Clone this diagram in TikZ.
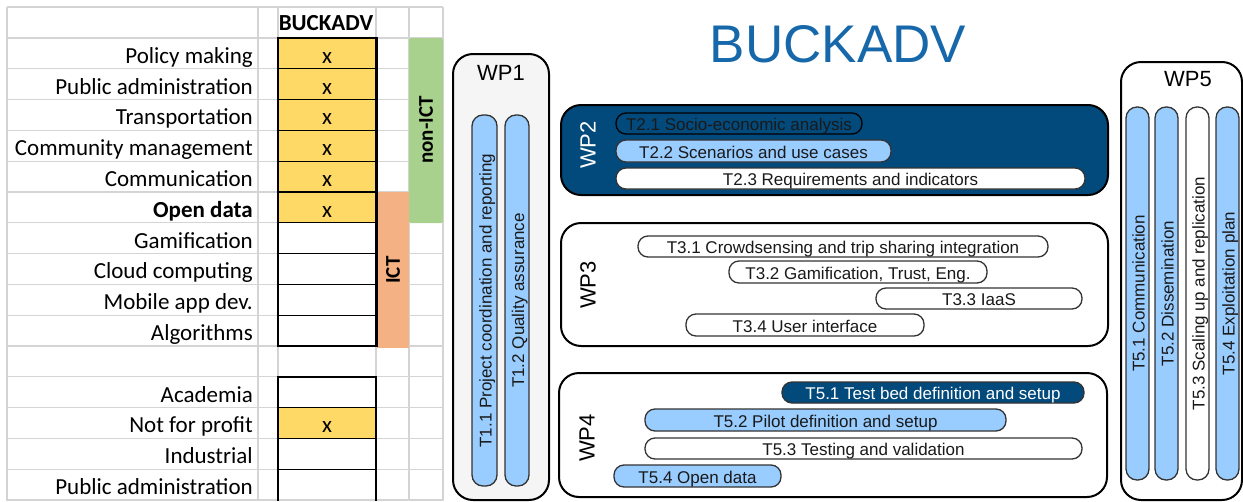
\documentclass[tikz,border=0pt]{standalone}
\usepackage{fontspec}
\setmainfont{Liberation Sans}
\newfontfamily\calfont{Carlito}
\definecolor{gridgray}{HTML}{D4D4D4}
\definecolor{cellyellow}{HTML}{FFD966}
\definecolor{ictgreen}{HTML}{A9D18E}
\definecolor{ictorange}{HTML}{F4B183}
\definecolor{wpdark}{RGB}{3,74,124}
\definecolor{tasklight}{HTML}{99CCFF}
\definecolor{titleblue}{RGB}{22,104,170}
\definecolor{wponefill}{HTML}{F5F5F5}
\definecolor{pillline}{HTML}{333333}
\begin{document}
\begin{tikzpicture}[x=1pt,y=-1pt,
  gridline/.style={draw=gridgray,line width=1.3pt},
  tablabel/.style={anchor=base east,inner sep=0pt,font=\calfont\fontsize{23}{26}\selectfont},
  cellmark/.style={anchor=base,inner sep=0pt,font=\calfont\fontsize{23}{26}\selectfont},
  sidelabel/.style={rotate=90,inner sep=0pt,font=\calfont\bfseries\fontsize{21}{24}\selectfont},
  wpbox/.style={draw=black,line width=2pt,rounded corners=20pt,inner sep=0pt},
  wplabel/.style={inner sep=0pt,font=\fontsize{22}{26}\selectfont},
  pill/.style={draw=pillline,line width=1.3pt,rounded corners=10pt,inner sep=0pt,
    font=\fontsize{17}{20}\selectfont,text height=14pt,text depth=0pt,text=black!90},
  bar/.style={pill,rotate=90,rounded corners=11pt},
]
\useasboundingbox (0,0) rectangle (1243,501);
% ---------- spreadsheet grid ----------
\draw[gridline] (7,7) -- (443,7);
\foreach \k in {0,...,15} \draw[gridline] (7,38+30.8*\k) -- (443,38+30.8*\k);
\foreach \c in {7,258,278,376,409,443} \draw[gridline] (\c,7) -- (\c,501);
% fills
\foreach \k in {0,...,5} \fill[cellyellow] (278,38+30.8*\k) rectangle (376,68.8+30.8*\k);
\fill[cellyellow] (278,407.6) rectangle (376,438.4);
\fill[ictgreen,rounded corners=2pt] (409,38) rectangle (443,223);
\fill[ictorange] (377,192) rectangle (409,348);
% black borders
\foreach \k in {1,...,9} \draw[line width=1.3pt] (278,38+30.8*\k) -- (376,38+30.8*\k);
\draw[line width=2.4pt] (277,38) -- (377.5,38);
\draw[line width=1.8pt] (278,38) -- (278,346);
\draw[line width=3pt] (376,38) -- (376,347);
\draw[line width=2.4pt] (277,346) -- (377.5,346);
\draw[line width=2.4pt] (277,376.8) -- (377,376.8);
\foreach \k in {13,14,15} \draw[line width=1.3pt] (278,38+30.8*\k-30.8) -- (376,38+30.8*\k-30.8);
\draw[line width=1.8pt] (278,376.8) -- (278,501);
\draw[line width=2.2pt] (376,376.8) -- (376,501);
% header
\node[cellmark,font=\calfont\bfseries\fontsize{23}{26}\selectfont] (hdr) at (326,30) {BUCKADV};
% row labels
\foreach \k/\t in {1/Policy making,2/Public administration,3/Transportation,4/Community management,
  5/Communication,6/\textbf{Open data},7/Gamification,8/Cloud computing,9/Mobile app dev.,
  10/Algorithms,12/Academia,13/Not for profit,14/Industrial,15/Public administration}
  \node[tablabel] (lab\k) at (253,32.5+30.8*\k) {\t};
\foreach \k in {1,...,6,13} \node[cellmark] (mark\k) at (327,32.5+30.8*\k) {x};
\node[sidelabel] (nonict) at (426,130) {non-ICT};
\node[sidelabel] (ict) at (393,270) {ICT};
% ---------- title ----------
\node[anchor=base,inner sep=0pt,text=titleblue,font=\fontsize{53}{60}\selectfont] (title) at (838,62) {BUCKADV};
% ---------- WP1 ----------
\node[wpbox,fill=wponefill,minimum width=96pt,minimum height=446pt] (wp1) at (501,277) {};
\node[wplabel] (wp1l) at (501,73) {WP1};
\node[bar,fill=tasklight,minimum width=371pt,minimum height=25pt] (t11) at (484.5,300.5) {T1.1 Project coordination and reporting};
\node[bar,fill=tasklight,minimum width=371pt,minimum height=24pt] (t12) at (517,300.5) {T1.2 Quality assurance};
% ---------- WP2 ----------
\node[wpbox,fill=wpdark,minimum width=547pt,minimum height=90pt] (wp2) at (834.5,150) {};
\node[wplabel,rotate=90,text=white] (wp2l) at (588,145) {WP2};
\node[pill,fill=wpdark,draw=black,minimum width=246pt,minimum height=21pt] (t21) at (739,123.5) {T2.1 Socio-economic analysis};
\node[pill,fill=tasklight,minimum width=275pt,minimum height=22pt] (t22) at (753.5,151) {T2.2 Scenarios and use cases};
\node[pill,fill=white,minimum width=469pt,minimum height=21pt] (t23) at (850.5,178.5) {T2.3 Requirements and indicators};
% ---------- WP3 ----------
\node[wpbox,fill=white,minimum width=547pt,minimum height=123pt] (wp3) at (834.5,284.5) {};
\node[wplabel,rotate=90] (wp3l) at (588,285) {WP3};
\node[pill,fill=white,minimum width=410pt,minimum height=21pt] (t31) at (843,246.5) {T3.1 Crowdsensing and trip sharing integration};
\node[pill,fill=white,minimum width=258pt,minimum height=22pt] (t32) at (858,272) {T3.2 Gamification, Trust, Eng.};
\node[pill,fill=white,minimum width=206pt,minimum height=21pt] (t33) at (979,298.5) {T3.3 IaaS};
\node[pill,fill=white,minimum width=238pt,minimum height=22pt] (t34) at (805,325) {T3.4 User interface};
% ---------- WP4 ----------
\node[wpbox,fill=white,minimum width=548pt,minimum height=124pt] (wp4) at (833,435) {};
\node[wplabel,rotate=90] (wp4l) at (587,438) {WP4};
\node[pill,fill=wpdark,text=white,minimum width=302pt,minimum height=21pt] (t51a) at (933,392.5) {T5.1 Test bed definition and setup};
\node[pill,fill=tasklight,minimum width=361pt,minimum height=22pt] (t52a) at (825.5,420) {T5.2 Pilot definition and setup};
\node[pill,fill=white,minimum width=437pt,minimum height=21pt] (t53a) at (863.5,448.5) {T5.3 Testing and validation};
\node[pill,fill=tasklight,minimum width=167pt,minimum height=22pt] (t54a) at (697.5,476) {T5.4 Open data};
% ---------- WP5 ----------
\node[wpbox,fill=white,minimum width=121pt,minimum height=438pt] (wp5) at (1181.5,281) {};
\node[wplabel] (wp5l) at (1188,79) {WP5};
\node[bar,fill=tasklight,minimum width=373pt,minimum height=23pt] (t51) at (1137.5,293.5) {T5.1 Communication};
\node[bar,fill=tasklight,minimum width=373pt,minimum height=23pt] (t52) at (1166.5,293.5) {T5.2 Dissemination};
\node[bar,fill=white,minimum width=373pt,minimum height=23pt] (t53) at (1197.5,293.5) {T5.3 Scaling up and replication};
\node[bar,fill=tasklight,minimum width=373pt,minimum height=23pt] (t54) at (1227.5,293.5) {T5.4 Exploitation plan};
\end{tikzpicture}
\end{document}
